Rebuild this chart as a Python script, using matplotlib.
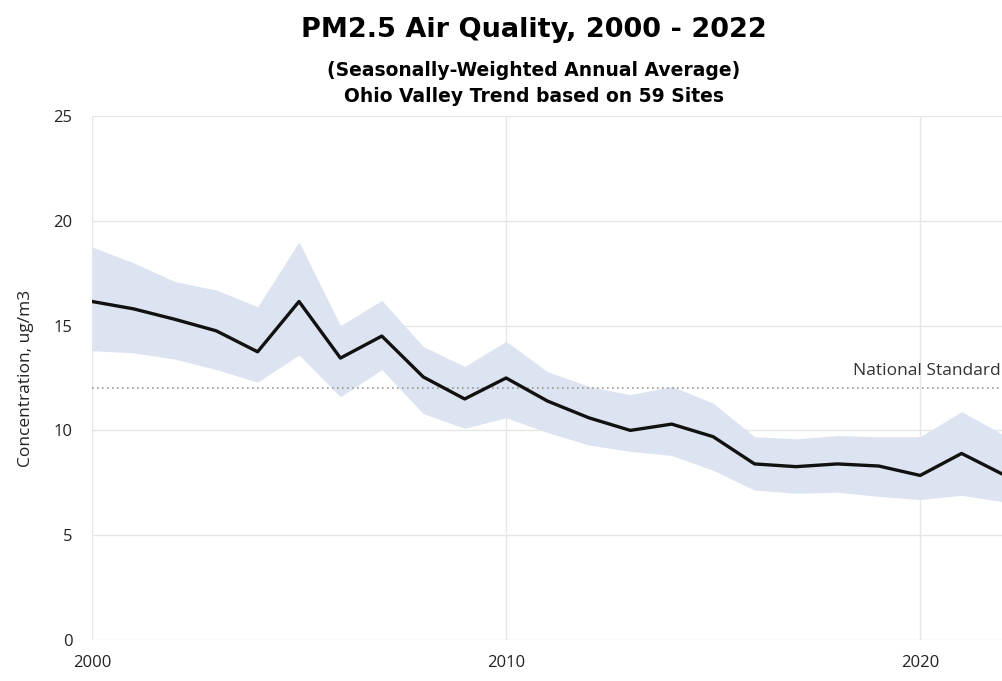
import numpy as np
import matplotlib
matplotlib.use("Agg")
from matplotlib import pyplot as plt

# annual PM2.5 trend, ug/m3
years = np.arange(2000, 2023)
mean = [16.15, 15.8, 15.3, 14.75, 13.75, 16.15, 13.45, 14.5, 12.55, 11.5, 12.5, 11.4,
        10.6, 10.0, 10.3, 9.7, 8.4, 8.27, 8.4, 8.3, 7.85, 8.9, 7.9]
upper = [18.75, 18.0, 17.1, 16.7, 15.9, 19.0, 15.0, 16.2, 14.0, 13.05, 14.25, 12.8,
         12.1, 11.7, 12.1, 11.3, 9.7, 9.6, 9.75, 9.7, 9.7, 10.9, 9.8]
lower = [13.8, 13.7, 13.4, 12.9, 12.3, 13.6, 11.6, 12.9, 10.8, 10.1, 10.6, 9.9,
         9.3, 9.0, 8.8, 8.1, 7.15, 7.0, 7.05, 6.85, 6.7, 6.9, 6.6]
standard = 12

fig = plt.figure(figsize=(10.03, 6.81), dpi=100)
ax = fig.add_axes([0.0917, 0.0602, 0.9083, 0.7695])

ax.fill_between(years, lower, upper, color="#dde4f1", linewidth=0, zorder=2)
ax.plot(years, mean, color="#111111", linewidth=2.4, zorder=3)
ax.axhline(standard, color="#999999", linestyle=(0, (1, 2)), linewidth=1.2, zorder=2.5)
ax.text(2021.95, standard + 0.45, "National Standard", ha="right", va="bottom",
        fontsize=12.5, color="#333333", family="Open Sans")

ax.set_xlim(2000, 2022)
ax.set_ylim(0, 25)
ax.set_xticks([2000, 2010, 2020])
ax.set_yticks([0, 5, 10, 15, 20, 25])
ax.grid(True, color="#e6e6e6", linewidth=1, zorder=0)
ax.set_axisbelow(True)
for s in ax.spines.values():
    s.set_visible(False)
ax.tick_params(length=0, labelsize=12, labelcolor="#222222", pad=14)
for lab in ax.get_xticklabels() + ax.get_yticklabels():
    lab.set_family("Open Sans")
ax.tick_params(axis="x", pad=11)
ax.set_ylabel("Concentration, ug/m3", fontsize=12.5, family="Open Sans", color="#222222", labelpad=14)

fig.text(0.532, 0.945, "PM2.5 Air Quality, 2000 - 2022", ha="center", fontsize=19.5, fontweight="bold")
fig.text(0.532, 0.888, "(Seasonally-Weighted Annual Average)", ha="center", fontsize=13.5, fontweight="bold")
fig.text(0.532, 0.85, "Ohio Valley Trend based on 59 Sites", ha="center", fontsize=13.5, fontweight="bold")

fig.savefig("out.png", dpi=100, facecolor="white")
